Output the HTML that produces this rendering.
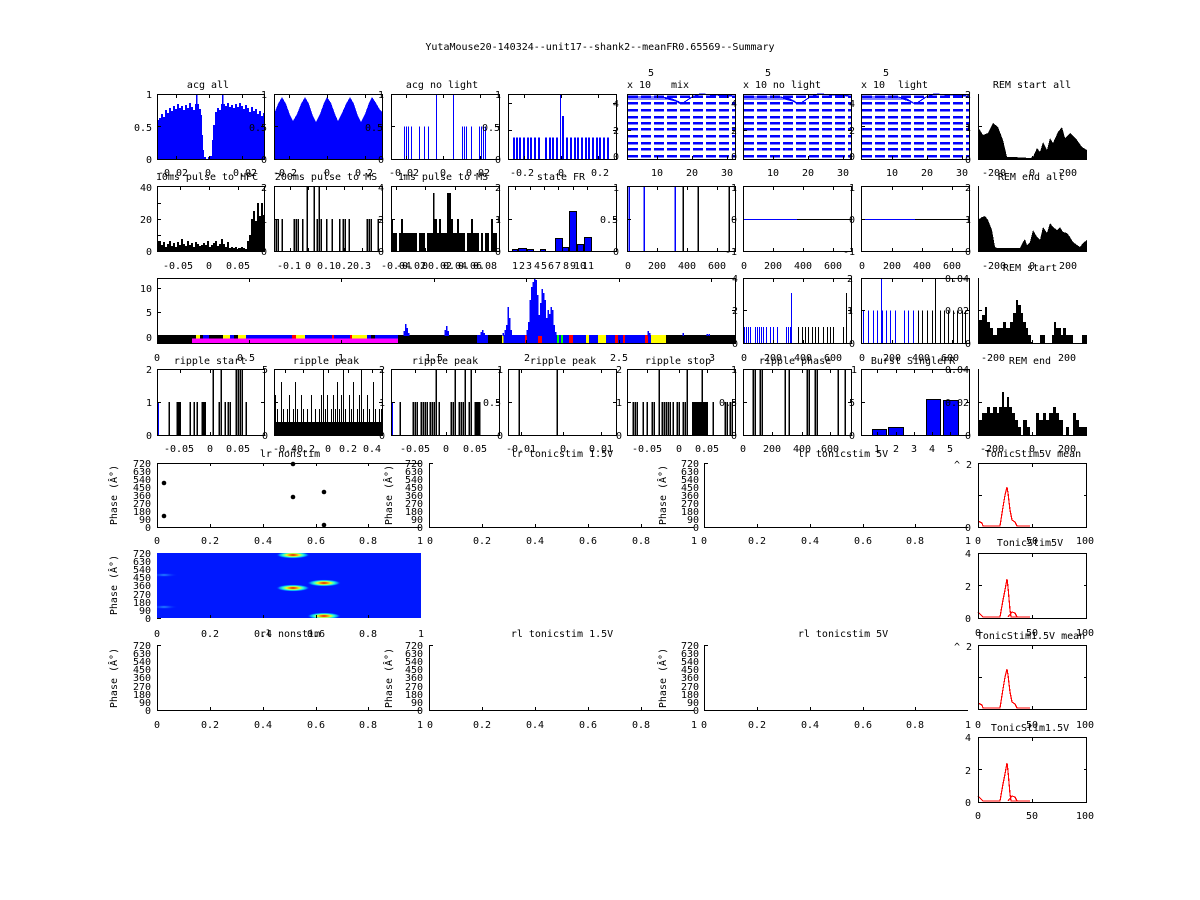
<!DOCTYPE html>
<html><head><meta charset="utf-8"><style>
html,body{margin:0;padding:0;background:#fff;}
svg{display:block;}
text{font-family:"DejaVu Sans Mono","Liberation Mono",monospace;font-size:10px;fill:#000;}
.m{text-anchor:middle}
.e{text-anchor:end}
</style></head><body>
<svg width="1200" height="900" viewBox="0 0 1200 900" xmlns="http://www.w3.org/2000/svg" shape-rendering="crispEdges">
<defs>
<radialGradient id="hb">
<stop offset="0" stop-color="#c00000"/>
<stop offset="0.2" stop-color="#ff7000"/>
<stop offset="0.4" stop-color="#e8ff20"/>
<stop offset="0.6" stop-color="#30ffd0"/>
<stop offset="0.8" stop-color="#0090ff"/>
<stop offset="1" stop-color="#0018ff" stop-opacity="0"/>
</radialGradient>
<radialGradient id="hf">
<stop offset="0" stop-color="#2a9cff"/>
<stop offset="1" stop-color="#0018ff" stop-opacity="0"/>
</radialGradient>
<clipPath id="hc"><rect x="157" y="553" width="264" height="65"/></clipPath>
</defs>
<rect width="1200" height="900" fill="#fff"/>

<text x="600" y="50" class="m">YutaMouse20-140324--unit17--shank2--meanFR0.65569--Summary</text>

<!-- ================= ROW 1 ================= -->
<path fill="#00f" d="M157,159V120H159V118H161V114H163V117H165V110H167V113H169V108H171V111H173V106H175V109H177V104H179V108H181V106H183V110H185V105H187V108H189V103H191V107H193V110H195V104H196V94H197.5V104H199V109H201V115H202V135H203V150H204V157H206V159H208V157H210V156H212V140H213V125H215V112H217V108H219V110H221V104H222V94H223.5V104H225V106H227V103H229V107H231V105H233V108H235V104H237V107H239V103H241V106H243V109H245V105H247V108H249V112H251V107H253V111H255V109H257V114H259V111H261V116H263V113H264V159Z"/>
<path fill="#00f" d="M274,159L274,114L278,104L282,97L286,104L290,115L293,121L297,114L301,104L305,97L309,104L313,116L316,122L320,114L324,103L327,97L331,103L335,114L338,121L342,113L346,104L350,97L354,104L358,116L361,122L365,114L369,103L372,97L376,103L380,110L382,112L382,159Z"/>
<path stroke="#00f" stroke-width="1" d="M404.5,159V126.5M406.5,159V126.5M408.5,159V126.5M411.5,159V126.5M419.5,159V126.5M424.5,159V126.5M428.5,159V126.5M462.5,159V126.5M464.5,159V126.5M466.5,159V126.5M471.5,159V126.5M479.5,159V126.5M481.5,159V126.5M483.5,159V126.5M485.5,159V126.5"/>
<path stroke="#00f" stroke-width="1" d="M436.5,159V94M453.5,159V94M560.5,159V94"/>
<path stroke="#00f" stroke-width="2" d="M514,159V137.5M517,159V137.5M520,159V137.5M524,159V137.5M528,159V137.5M531,159V137.5M535,159V137.5M539,159V137.5M546,159V137.5M550,159V137.5M553,159V137.5M557,159V137.5M563,159V116M567,159V137.5M571,159V137.5M575,159V137.5M578,159V137.5M582,159V137.5M586,159V137.5M589,159V137.5M593,159V137.5M597,159V137.5M600,159V137.5M604,159V137.5M608,159V137.5"/>
<g stroke="#00f" stroke-width="2.5" stroke-dasharray="10 3">
<path d="M628,96.5H735M628,103H735M628,110H735M628,117H735M628,123H735M628,129H735M628,136H735M628,143H735M628,149H735M628,156H735"/>
<path d="M744,96.5H851M744,103H851M744,110H851M744,117H851M744,123H851M744,129H851M744,136H851M744,143H851M744,149H851M744,156H851"/>
<path d="M862,96.5H969M862,103H969M862,110H969M862,117H969M862,123H969M862,129H969M862,136H969M862,143H969M862,149H969M862,156H969"/>
</g>
<g fill="none" stroke="#00f" stroke-width="1.2">
<polyline points="628,97 662,97 672,99 679,102 682,104 686,101 692,97 700,94 715,95 735,96"/>
<polyline points="628,99 668,99 676,101 681,104"/>
<polyline points="744,97 780,97 790,99 797,103 800,104 804,101 810,97 818,94 835,95 851,96"/>
<polyline points="744,99 785,99 793,101 798,104"/>
<polyline points="862,97 898,97 907,99 913,103 916,104 920,101 926,97 934,94 950,95 969,96"/>
<polyline points="862,99 903,99 910,101 915,104"/>
</g>
<polygon fill="#000" points="978,159 978,127 983,135 988,133 993,123 998,127 1003,140 1007,157 1013,157 1030,158 1033,157 1037,148 1040,152 1043,142 1047,150 1050,138 1053,143 1058,132 1062,127 1065,138 1070,133 1077,140 1082,147 1087,150 1087,159"/>

<!-- ================= ROW 2 ================= -->
<path fill="#000" d="M157,251V241H161V245H163V242H165V247H167V244H169V241H171V246H173V243H175V247H177V242H179V245H181V239H183V244H185V246H187V241H189V245H191V243H193V247H195V242H197V244H199V246H201V245H203V243H205V245H207V241H209V247H211V245H213V243H215V241H217V246H219V244H221V239H223V244H225V247H227V242H229V248H231V247H233V248H235V247H237V249H239V248H241V247H243V248H245V249H247V241H249V235H251V219H253V211H255V221H257V203H259V216H261V203H263V215H264V251Z"/>
<path stroke="#000" d="M276,251V219M278,251V219M282,251V219M294,251V219M296,251V219M298,251V219M302.5,251V219M307,251V187M314,251V187M317,251V219M319,251V187M321,251V219M326.5,251V219M332,251V219M339.5,251V219M343,251V219M345,251V219M349,251V219M367,251V219M369,251V219M371,251V219M378,251V219" stroke-width="1.5"/>
<path fill="#000" d="M391,251V219H393V233H397V251H399V233H401V219H403V233H417V251H419V233H425V251H427V233H433V193H434.5V219H437V233H439V219H441V233H447V193H451V219H453V233H457V219H459V233H465V251H467V233H471V219H473V233H479V251H481V233H483V251H485V233H489V251H491V219H493V233H497V251Z"/>
<g fill="#00f" stroke="#000" stroke-width="1">
<rect x="512.5" y="249.5" width="5" height="2"/>
<rect x="518.5" y="248.5" width="8" height="3"/>
<rect x="527.5" y="249.5" width="6" height="2"/>
<rect x="540.5" y="249.5" width="5" height="2"/>
<rect x="555.5" y="238.5" width="7" height="13"/>
<rect x="562.5" y="247.5" width="6" height="4"/>
<rect x="569.5" y="211.5" width="7" height="40"/>
<rect x="577.5" y="244.5" width="6" height="7"/>
<rect x="584.5" y="237.5" width="7" height="14"/>
</g>
<path stroke="#00f" stroke-width="1.5" d="M629,187V251M644,187V251M675,187V251"/>
<path stroke="#000" stroke-width="1.5" d="M683,187V251M698,187V251M729,187V251"/>
<path stroke="#00f" d="M743,219.5H797M861,219.5H915"/>
<path stroke="#000" d="M797,219.5H851M915,219.5H969"/>
<polygon fill="#000" points="978,251 978,220 982,217 985,216 988,220 992,230 995,247 997,248 1020,248 1023,242 1025,239 1027,245 1030,242 1033,230 1037,237 1040,240 1043,227 1047,233 1050,223 1053,227 1057,230 1060,227 1063,232 1067,233 1070,237 1073,242 1077,245 1080,247 1083,243 1087,240 1087,251"/>

<!-- ================= ROW 3 ================= -->
<rect x="157" y="335" width="578" height="8" fill="#000"/>
<rect x="192" y="338.5" width="206" height="4.5" fill="#f0f"/>
<g>
<rect x="196" y="335" width="4" height="3.5" fill="#ff0"/>
<rect x="203" y="335" width="6" height="3.5" fill="#00f"/>
<rect x="223" y="335" width="7" height="3.5" fill="#ff0"/>
<rect x="230" y="335" width="4" height="3.5" fill="#00f"/>
<rect x="238" y="335" width="8" height="3.5" fill="#ff0"/>
<rect x="246" y="335" width="46" height="3.5" fill="#00f"/>
<rect x="292" y="335" width="4" height="3.5" fill="#f00"/>
<rect x="296" y="335" width="9" height="3.5" fill="#ff0"/>
<rect x="305" y="335" width="27" height="3.5" fill="#00f"/>
<rect x="332" y="335" width="2" height="3.5" fill="#f00"/>
<rect x="334" y="335" width="16" height="3.5" fill="#00f"/>
<rect x="350" y="335" width="2" height="3.5" fill="#f00"/>
<rect x="352" y="335" width="15" height="3.5" fill="#ff0"/>
<rect x="367" y="335" width="4" height="3.5" fill="#00f"/>
<rect x="375" y="335" width="23" height="3.5" fill="#00f"/>
</g>
<g>
<rect x="477" y="335" width="11" height="8" fill="#00f"/>
<rect x="502" y="335" width="23" height="8" fill="#00f"/>
<rect x="502" y="335" width="1.5" height="8" fill="#ff0"/>
<rect x="525" y="335" width="2" height="8" fill="#f00"/>
<rect x="527" y="335" width="11" height="8" fill="#00f"/>
<rect x="538" y="335" width="4" height="8" fill="#f00"/>
<rect x="542" y="335" width="15" height="8" fill="#00f"/>
<rect x="557" y="335" width="2" height="8" fill="#0f0"/>
<rect x="559" y="335" width="2" height="8" fill="#00f"/>
<rect x="561" y="335" width="2" height="8" fill="#0f0"/>
<rect x="563" y="335" width="6" height="8" fill="#00f"/>
<rect x="569" y="335" width="4" height="8" fill="#f00"/>
<rect x="573" y="335" width="13" height="8" fill="#00f"/>
<rect x="586" y="335" width="3" height="8" fill="#ff0"/>
<rect x="589" y="335" width="9" height="8" fill="#00f"/>
<rect x="598" y="335" width="8" height="8" fill="#ff0"/>
<rect x="606" y="335" width="9" height="8" fill="#00f"/>
<rect x="615" y="335" width="3" height="8" fill="#f00"/>
<rect x="618" y="335" width="5" height="8" fill="#00f"/>
<rect x="623" y="335" width="2" height="8" fill="#f00"/>
<rect x="625" y="335" width="20" height="8" fill="#00f"/>
<rect x="645" y="335" width="3" height="8" fill="#f00"/>
<rect x="648" y="335" width="3" height="8" fill="#00f"/>
<rect x="651" y="335" width="15" height="8" fill="#ff0"/>
</g>
<path stroke="#00f" stroke-width="1.5" d="M404,336V331M405.5,336V324M407,336V328M408.5,336V333M445,336V330M446.5,336V326M448,336V331M481,336V332M482.5,336V330M484,336V333M503,336V333M505,336V330M506.5,336V325M508,336V307M509.5,336V318M511,336V330M527,336V330M528.5,336V322M530,336V300M531.5,336V287M533,336V282M534.5,336V278M536,336V280M537.5,336V295M539,336V315M540.5,336V303M542,336V289M543.5,336V293M545,336V300M546.5,336V318M548,336V310M549.5,336V314M551,336V307M552.5,336V310M554,336V325M555.5,336V332M648,336V331M649.5,336V333M683,336V333M707,336V334M709,336V334"/>
<path stroke="#00f" stroke-width="1" d="M744.5,343V327M746.5,343V327M748.5,343V327M750.5,343V327M755.5,343V327M757.5,343V327M759.5,343V327M761.5,343V327M763.5,343V327M766.5,343V327M770.5,343V327M773.5,343V327M777.5,343V327M786.5,343V327M788.5,343V327M790.5,343V327M791.5,343V293"/>
<path stroke="#000" stroke-width="1" d="M798.5,343V327M802.5,343V327M805.5,343V327M808.5,343V327M812.5,343V327M815.5,343V327M818.5,343V327M823.5,343V327M827.5,343V327M830.5,343V327M833.5,343V327M843.5,343V327M846.5,343V293"/>
<path stroke="#00f" stroke-width="1" d="M863.5,343V310.5M868.5,343V310.5M873.5,343V310.5M877.5,343V310.5M882.5,343V310.5M886.5,343V310.5M890.5,343V310.5M895.5,343V310.5M904.5,343V310.5M908.5,343V310.5M913.5,343V310.5M881.5,343V278"/>
<path stroke="#000" stroke-width="1" d="M918.5,343V310.5M922.5,343V310.5M927.5,343V310.5M932.5,343V310.5M940.5,343V310.5M944.5,343V310.5M948.5,343V310.5M953.5,343V310.5M957.5,343V310.5M962.5,343V310.5M965.5,343V310.5M935.5,343V278"/>
<path fill="#000" d="M978,343V320H982V315H985V307H987V322H990V328H993V335H997V328H1003V322H1006V328H1010V322H1013V313H1016V300H1018V305H1021V313H1023V322H1026V328H1028V335H1031V342H1033V343H1040V335H1045V343H1052V335H1054V322H1056V328H1061V335H1063V328H1066V335H1073V343H1082V335H1087V343Z"/>

<!-- ================= ROW 4 ================= -->
<path stroke="#00f" stroke-width="1.5" d="M158,435V402M392,435V402"/>
<path stroke="#000" stroke-width="1.5" d="M169,435V402M177,435V402M178.5,435V402M180,435V402M190,435V402M194,435V402M197,435V402M202,435V402M203.5,435V402M205,435V402M213,435V369M219,435V402M221,435V369M225,435V402M228,435V402M230,435V402M236,435V369M238,435V369M240,435V369M242,435V369M246,435V402"/>
<rect x="274" y="422" width="108" height="13" fill="#000"/>
<path stroke="#000" stroke-width="1" d="M275.5,435V395M277.5,435V409M279.5,435V422M281.5,435V382M283.5,435V409M285.5,435V422M287.5,435V409M289.5,435V395M291.5,435V422M293.5,435V409M295.5,435V382M297.5,435V409M299.5,435V422M301.5,435V395M303.5,435V409M305.5,435V422M307.5,435V409M309.5,435V422M311.5,435V395M313.5,435V422M315.5,435V409M317.5,435V422M319.5,435V409M321.5,435V395M323.5,435V369M325.5,435V409M327.5,435V395M329.5,435V422M331.5,435V409M333.5,435V395M335.5,435V409M337.5,435V382M339.5,435V409M341.5,435V395M343.5,435V369M345.5,435V409M347.5,435V422M349.5,435V395M351.5,435V409M353.5,435V382M355.5,435V422M357.5,435V409M359.5,435V395M361.5,435V369M363.5,435V409M365.5,435V422M367.5,435V395M369.5,435V409M371.5,435V422M373.5,435V382M375.5,435V409M377.5,435V422M379.5,435V409M381.5,435V409"/>
<path stroke="#000" stroke-width="1.5" d="M400,435V402M413,435V402M415,435V402M417,435V402M421,435V402M423,435V402M425,435V402M427,435V402M430,435V402M432,435V402M434,435V402M436,435V369M439,435V402M451,435V402M453,435V402M455,435V369M459,435V402M461,435V402M463,435V402M465,435V369M469,435V402M471,435V369M475,435V402M476.5,435V402M478,435V402M479.5,435V402"/>
<path stroke="#000" stroke-width="1.5" d="M519,435V369M557,435V369"/>
<rect x="692" y="402" width="16" height="33" fill="#000"/>
<path stroke="#000" stroke-width="1.5" d="M633,435V402M635,435V402M637,435V402M643,435V402M647,435V402M652,435V402M654,435V402M659,435V369M662,435V402M664,435V402M666,435V402M668,435V402M670,435V402M673,435V402M677,435V402M679,435V402M683,435V402M685,435V402M687,435V369M702,435V369M713,435V402M725,435V402M727,435V402M730,435V402M732,435V402"/>
<path stroke="#000" stroke-width="1.5" d="M753,435V369M755,435V369M760,435V369M762,435V369M785,435V369M789,435V369M807,435V369M809,435V369M815,435V369M817,435V369M838,435V369M845,435V369"/>
<g fill="#00f" stroke="#000" stroke-width="1">
<rect x="872.5" y="429.5" width="14" height="6"/>
<rect x="888.5" y="427.5" width="15" height="8"/>
<rect x="926.5" y="399.5" width="14" height="36"/>
<rect x="943.5" y="400.5" width="15" height="35"/>
</g>
<path fill="#000" d="M978,435V420H982V413H987V407H990V413H993V407H997V413H999V407H1002V392H1004V407H1007V397H1009V407H1012V413H1015V420H1018V427H1021V435H1023V420H1027V427H1030V435H1036V413H1039V420H1043V413H1046V420H1049V413H1053V407H1056V413H1059V420H1063V435H1066V427H1069V435H1073V413H1076V420H1079V427H1087V435Z"/>

<!-- ================= BOXES rows 1-4 ================= -->
<g fill="none" stroke="#000" stroke-width="1">
<rect x="157.5" y="94.5" width="107" height="65"/>
<rect x="274.5" y="94.5" width="108" height="65"/>
<rect x="391.5" y="94.5" width="108" height="65"/>
<rect x="508.5" y="94.5" width="108" height="65"/>
<rect x="627.5" y="94.5" width="108" height="65"/>
<rect x="743.5" y="94.5" width="108" height="65"/>
<rect x="861.5" y="94.5" width="108" height="65"/>
<path d="M978.5,94V159.5H1087"/>
<rect x="157.5" y="186.5" width="107" height="65"/>
<rect x="274.5" y="186.5" width="108" height="65"/>
<rect x="391.5" y="186.5" width="108" height="65"/>
<rect x="508.5" y="186.5" width="108" height="65"/>
<rect x="627.5" y="186.5" width="108" height="65"/>
<rect x="743.5" y="186.5" width="108" height="65"/>
<rect x="861.5" y="186.5" width="108" height="65"/>
<path d="M978.5,186V251.5H1087"/>
<rect x="157.5" y="278.5" width="578" height="65"/>
<rect x="743.5" y="278.5" width="108" height="65"/>
<rect x="861.5" y="278.5" width="108" height="65"/>
<path d="M978.5,278V343.5H1087"/>
<rect x="157.5" y="369.5" width="107" height="66"/>
<rect x="274.5" y="369.5" width="108" height="66"/>
<rect x="391.5" y="369.5" width="108" height="66"/>
<rect x="508.5" y="369.5" width="108" height="66"/>
<rect x="627.5" y="369.5" width="108" height="66"/>
<rect x="743.5" y="369.5" width="108" height="66"/>
<rect x="861.5" y="369.5" width="108" height="66"/>
<path d="M978.5,369V435.5H1087"/>
</g>
<!-- ticks rows 1-4 -->
<path fill="none" stroke="#000" stroke-width="1" d="
M176.5,159V156M209.5,159V156M242.5,159V156M176.5,95V98M209.5,95V98M242.5,95V98M158,126.5H161M264,126.5H261
M289.5,159V156M327.5,159V156M365.5,159V156M289.5,95V98M327.5,95V98M365.5,95V98M275,126.5H278M382,126.5H379
M406.5,159V156M443.5,159V156M480.5,159V156M406.5,95V98M443.5,95V98M480.5,95V98M392,126.5H395M499,126.5H496
M524.5,159V156M561.5,159V156M598.5,159V156M524.5,95V98M561.5,95V98M598.5,95V98M509,130.5H512M616,130.5H613M509,103.5H512M616,103.5H613
M657.5,159V156M692.5,159V156M727.5,159V156M657.5,95V98M692.5,95V98M727.5,95V98M628,130.5H631M735,130.5H732
M773.5,159V156M808.5,159V156M843.5,159V156M773.5,95V98M808.5,95V98M843.5,95V98M744,130.5H747M851,130.5H848
M892.5,159V156M927.5,159V156M962.5,159V156M892.5,95V98M927.5,95V98M962.5,95V98M862,126.5H865M969,126.5H966
M996.5,159V156M1032.5,159V156M1068.5,159V156M979,126.5H982
M180.5,251V248M209.5,251V248M238.5,251V248M180.5,187V190M209.5,187V190M238.5,187V190M158,219.5H161M264,219.5H261M158,203.5H161M158,235.5H161
M290.5,251V248M308.5,251V248M326.5,251V248M344.5,251V248M362.5,251V248M290.5,187V190M308.5,187V190M326.5,187V190M344.5,187V190M362.5,187V190M275,219.5H278M382,219.5H379
M396.5,251V248M411.5,251V248M425.5,251V248M440.5,251V248M455.5,251V248M470.5,251V248M485.5,251V248M396.5,187V190M425.5,187V190M455.5,187V190M485.5,187V190M392,219.5H395M499,219.5H496
M515.5,187V190M530.5,187V190M544.5,187V190M558.5,187V190M573.5,187V190M587.5,187V190M509,219.5H512M616,219.5H613
M657.5,251V248M687.5,251V248M717.5,251V248M657.5,187V190M687.5,187V190M717.5,187V190M628,219.5H631M735,219.5H732
M773.5,251V248M803.5,251V248M833.5,251V248M773.5,187V190M803.5,187V190M833.5,187V190
M892.5,251V248M922.5,251V248M952.5,251V248M892.5,187V190M922.5,187V190M952.5,187V190M862,219.5H865M969,219.5H966
M996.5,251V248M1032.5,251V248M1068.5,251V248M979,219.5H982
M249.5,343V340M341.5,343V340M434.5,343V340M526.5,343V340M619.5,343V340M711.5,343V340M249.5,279V282M341.5,279V282M434.5,279V282M526.5,279V282M619.5,279V282M711.5,279V282M158,288.5H161M158,312.5H161M735,310.5H732
M773.5,343V340M803.5,343V340M833.5,343V340M773.5,279V282M803.5,279V282M833.5,279V282M744,310.5H747M851,310.5H848
M892.5,343V340M922.5,343V340M952.5,343V340M892.5,279V282M922.5,279V282M952.5,279V282M862,310.5H865M969,310.5H966
M996.5,343V340M1032.5,343V340M1068.5,343V340M979,310.5H982
M180.5,435V432M210.5,435V432M238.5,435V432M180.5,370V373M210.5,370V373M238.5,370V373M158,402.5H161M264,402.5H261
M285.5,370V373M303.5,370V373M328.5,370V373M348.5,370V373M372.5,370V373M275,402.5H278M382,402.5H379
M415.5,435V432M446.5,435V432M475.5,435V432M415.5,370V373M446.5,370V373M475.5,370V373M392,402.5H395M499,402.5H496
M521.5,435V432M563.5,435V432M601.5,435V432M521.5,370V373M563.5,370V373M601.5,370V373M509,402.5H512M616,402.5H613
M647.5,435V432M679.5,435V432M707.5,435V432M647.5,370V373M679.5,370V373M707.5,370V373M628,402.5H631M735,402.5H732
M772.5,435V432M802.5,435V432M830.5,435V432M772.5,370V373M802.5,370V373M830.5,370V373M744,402.5H747M851,402.5H848
M877.5,435V432M896.5,435V432M914.5,435V432M932.5,435V432M950.5,435V432M877.5,370V373M896.5,370V373M914.5,370V373M932.5,370V373M950.5,370V373M862,402.5H865M969,402.5H966
M996.5,435V432M1032.5,435V432M1068.5,435V432M979,402.5H982"/>

<!-- ================= TEXT rows 1-4 ================= -->
<text x="208" y="88" class="m">acg all</text>
<text x="442" y="88" class="m">acg no light</text>
<text x="627" y="88">x 10</text><text x="651" y="76" class="m">5</text><text x="680" y="88" class="m">mix</text>
<text x="743" y="88">x 10</text><text x="768" y="76" class="m">5</text><text x="797" y="88" class="m">no light</text>
<text x="861" y="88">x 10</text><text x="886" y="76" class="m">5</text><text x="913" y="88" class="m">light</text>
<text x="1032" y="88" class="m">REM start all</text>
<text x="152" y="98" class="e">1</text><text x="152" y="131" class="e">0.5</text><text x="152" y="163" class="e">0</text>
<text x="264" y="98" class="m">1</text><text x="258" y="131" class="m">0.5</text><text x="264" y="163" class="m">0</text>
<text x="381" y="98" class="m">1</text><text x="374" y="131" class="m">0.5</text><text x="381" y="163" class="m">0</text>
<text x="498" y="98" class="m">1</text><text x="491" y="131" class="m">0.5</text><text x="498" y="163" class="m">0</text>
<text x="616" y="107" class="m">4</text><text x="616" y="134" class="m">2</text><text x="616" y="160" class="m">0</text>
<text x="734" y="107" class="m">4</text><text x="734" y="134" class="m">2</text><text x="734" y="160" class="m">0</text>
<text x="852" y="107" class="m">4</text><text x="852" y="134" class="m">2</text><text x="852" y="160" class="m">0</text>
<text x="968" y="98" class="m">2</text><text x="968" y="131" class="m">1</text><text x="968" y="163" class="m">0</text>
<text x="173" y="176" class="m">-0.02</text><text x="208" y="176" class="m">0</text><text x="245" y="176" class="m">0.02</text>
<text x="285" y="176" class="m">-0.2</text><text x="327" y="176" class="m">0</text><text x="364" y="176" class="m">0.2</text>
<text x="404" y="176" class="m">-0.02</text><text x="443" y="176" class="m">0</text><text x="478" y="176" class="m">0.02</text>
<text x="522" y="176" class="m">-0.2</text><text x="561" y="176" class="m">0</text><text x="600" y="176" class="m">0.2</text>
<text x="657" y="176" class="m">10</text><text x="692" y="176" class="m">20</text><text x="727" y="176" class="m">30</text>
<text x="773" y="176" class="m">10</text><text x="808" y="176" class="m">20</text><text x="843" y="176" class="m">30</text>
<text x="892" y="176" class="m">10</text><text x="927" y="176" class="m">20</text><text x="962" y="176" class="m">30</text>
<text x="994" y="176" class="m">-200</text><text x="1032" y="176" class="m">0</text><text x="1068" y="176" class="m">200</text>

<text x="207" y="180" class="m">10ms pulse to HPC</text>
<text x="326" y="180" class="m">200ms pulse to MS</text>
<text x="443" y="180" class="m">1ms pulse to MS</text>
<text x="561" y="180" class="m">state FR</text>
<text x="1031" y="180" class="m">REM end all</text>
<text x="152" y="191" class="e">40</text><text x="152" y="223" class="e">20</text><text x="152" y="255" class="e">0</text>
<text x="264" y="191" class="m">2</text><text x="264" y="223" class="m">1</text><text x="264" y="255" class="m">0</text>
<text x="381" y="191" class="m">4</text><text x="381" y="223" class="m">2</text><text x="381" y="255" class="m">0</text>
<text x="498" y="191" class="m">2</text><text x="498" y="223" class="m">1</text><text x="498" y="255" class="m">0</text>
<text x="616" y="191" class="m">1</text><text x="609" y="223" class="m">0.5</text><text x="616" y="255" class="m">0</text>
<text x="734" y="191" class="m">1</text><text x="734" y="223" class="m">0</text><text x="737" y="255" class="e">-1</text>
<text x="852" y="191" class="m">1</text><text x="852" y="223" class="m">0</text><text x="855" y="255" class="e">-1</text>
<text x="968" y="191" class="m">2</text><text x="968" y="223" class="m">1</text><text x="968" y="255" class="m">0</text>
<text x="178" y="269" class="m">-0.05</text><text x="209" y="269" class="m">0</text><text x="238" y="269" class="m">0.05</text>
<text x="289" y="269" class="m">-0.1</text><text x="308" y="269" class="m">0</text><text x="326" y="269" class="m">0.1</text><text x="344" y="269" class="m">0.2</text><text x="362" y="269" class="m">0.3</text>
<text x="396" y="269" class="m">-0.04</text><text x="411" y="269" class="m">-0.02</text><text x="425" y="269" class="m">0</text><text x="440" y="269" class="m">0.02</text><text x="455" y="269" class="m">0.04</text><text x="470" y="269" class="m">0.06</text><text x="485" y="269" class="m">0.08</text>
<text x="515" y="269" class="m">1</text><text x="522" y="269" class="m">2</text><text x="529" y="269" class="m">3</text><text x="537" y="269" class="m">4</text><text x="544" y="269" class="m">5</text><text x="551" y="269" class="m">6</text><text x="558" y="269" class="m">7</text><text x="566" y="269" class="m">8</text><text x="573" y="269" class="m">9</text><text x="580" y="269" class="m">10</text><text x="588" y="269" class="m">11</text>
<text x="628" y="269" class="m">0</text><text x="657" y="269" class="m">200</text><text x="687" y="269" class="m">400</text><text x="717" y="269" class="m">600</text>
<text x="744" y="269" class="m">0</text><text x="773" y="269" class="m">200</text><text x="803" y="269" class="m">400</text><text x="833" y="269" class="m">600</text>
<text x="862" y="269" class="m">0</text><text x="892" y="269" class="m">200</text><text x="922" y="269" class="m">400</text><text x="952" y="269" class="m">600</text>
<text x="994" y="269" class="m">-200</text><text x="1032" y="269" class="m">0</text><text x="1068" y="269" class="m">200</text>

<text x="1030" y="271" class="m">REM start</text>
<text x="152" y="292" class="e">10</text><text x="152" y="316" class="e">5</text><text x="152" y="341" class="e">0</text>
<text x="735" y="282" class="m">4</text><text x="735" y="314" class="m">2</text><text x="735" y="347" class="m">0</text>
<text x="850" y="282" class="m">2</text><text x="850" y="314" class="m">1</text><text x="852" y="347" class="m">0</text>
<text x="957" y="282" class="m">0.04</text><text x="957" y="314" class="m">0.02</text><text x="968" y="347" class="m">0</text>
<text x="157" y="361" class="m">0</text><text x="246" y="361" class="m">0.5</text><text x="341" y="361" class="m">1</text><text x="434" y="361" class="m">1.5</text><text x="527" y="361" class="m">2</text><text x="619" y="361" class="m">2.5</text><text x="712" y="361" class="m">3</text>
<text x="744" y="361" class="m">0</text><text x="773" y="361" class="m">200</text><text x="803" y="361" class="m">400</text><text x="833" y="361" class="m">600</text>
<text x="862" y="361" class="m">0</text><text x="892" y="361" class="m">200</text><text x="921" y="361" class="m">400</text><text x="950" y="361" class="m">600</text>
<text x="993" y="361" class="m">-200</text><text x="1067" y="361" class="m">200</text>

<text x="210" y="364" class="m">ripple start</text>
<text x="326" y="364" class="m">ripple peak</text>
<text x="445" y="364" class="m">ripple peak</text>
<text x="563" y="364" class="m">ripple peak</text>
<text x="678" y="364" class="m">ripple stop</text>
<text x="795" y="364" class="m">ripple phase</text>
<text x="913" y="364" class="m">Burst SingleFR</text>
<text x="1030" y="364" class="m">REM end</text>
<text x="152" y="373" class="e">2</text><text x="152" y="406" class="e">1</text><text x="152" y="439" class="e">0</text>
<text x="265" y="373" class="m">5</text><text x="265" y="439" class="m">0</text>
<text x="382" y="373" class="m">2</text><text x="382" y="406" class="m">1</text><text x="382" y="439" class="m">0</text>
<text x="500" y="373" class="m">1</text><text x="492" y="406" class="m">0.5</text><text x="500" y="439" class="m">0</text>
<text x="619" y="373" class="m">2</text><text x="619" y="406" class="m">1</text><text x="619" y="439" class="m">0</text>
<text x="734" y="373" class="m">1</text><text x="728" y="406" class="m">0.5</text><text x="734" y="439" class="m">0</text>
<text x="854" y="373" class="m">1</text><text x="852" y="406" class="m">5</text><text x="852" y="439" class="m">0</text>
<text x="957" y="373" class="m">0.04</text><text x="957" y="406" class="m">0.02</text><text x="968" y="439" class="m">0</text>
<text x="179" y="452" class="m">-0.05</text><text x="210" y="452" class="m">0</text><text x="238" y="452" class="m">0.05</text>
<text x="285" y="452" class="m">-0.4</text><text x="303" y="452" class="m">-0.2</text><text x="328" y="452" class="m">0</text><text x="348" y="452" class="m">0.2</text><text x="372" y="452" class="m">0.4</text>
<text x="415" y="452" class="m">-0.05</text><text x="446" y="452" class="m">0</text><text x="475" y="452" class="m">0.05</text>
<text x="521" y="452" class="m">-0.01</text><text x="563" y="452" class="m">0</text><text x="601" y="452" class="m">0.01</text>
<text x="647" y="452" class="m">-0.05</text><text x="679" y="452" class="m">0</text><text x="707" y="452" class="m">0.05</text>
<text x="743" y="452" class="m">0</text><text x="772" y="452" class="m">200</text><text x="802" y="452" class="m">400</text><text x="830" y="452" class="m">600</text>
<text x="877" y="452" class="m">1</text><text x="896" y="452" class="m">2</text><text x="914" y="452" class="m">3</text><text x="932" y="452" class="m">4</text><text x="950" y="452" class="m">5</text>
<text x="992" y="452" class="m">-200</text><text x="1032" y="452" class="m">0</text><text x="1067" y="452" class="m">200</text>

<!-- ================= ROW 5 ================= -->
<text x="290" y="457" class="m">lr nonstim</text>
<text x="562" y="457" class="m">lr tonicstim 1.5V</text>
<text x="843" y="457" class="m">lr tonicstim 5V</text>
<text x="1033" y="457" class="m">TonicStim5V mean</text>
<g fill="#000" shape-rendering="auto">
<circle cx="164" cy="483" r="2.3"/><circle cx="164" cy="516" r="2.3"/>
<circle cx="293" cy="464" r="2.3"/><circle cx="293" cy="497" r="2.3"/>
<circle cx="324" cy="492" r="2.3"/><circle cx="324" cy="525" r="2.3"/>
</g>
<path fill="none" stroke="#000" stroke-width="1" d="
M157,463.5H421M210.5,463V466M263.5,463V466M316.5,463V466M368.5,463V466
M157.5,463V527M157,527.5H421M210.5,527V524M263.5,527V524M316.5,527V524M368.5,527V524M157,463.5H161
M429.5,463V527M429,527.5H694M482.5,527V524M535.5,527V524M588.5,527V524M641.5,527V524M429,463.5H433
M704.5,463V527M704,527.5H968M757.5,527V524M810.5,527V524M863.5,527V524M915.5,527V524M704,463.5H708"/>
<g>
<text x="151" y="467" class="e">720</text><text x="151" y="475" class="e">630</text><text x="151" y="483" class="e">540</text><text x="151" y="491" class="e">450</text><text x="151" y="499" class="e">360</text><text x="151" y="507" class="e">270</text><text x="151" y="515" class="e">180</text><text x="151" y="523" class="e">90</text><text x="151" y="531" class="e">0</text>
<text x="423" y="467" class="e">720</text><text x="423" y="475" class="e">630</text><text x="423" y="483" class="e">540</text><text x="423" y="491" class="e">450</text><text x="423" y="499" class="e">360</text><text x="423" y="507" class="e">270</text><text x="423" y="515" class="e">180</text><text x="423" y="523" class="e">90</text><text x="423" y="531" class="e">0</text>
<text x="699" y="467" class="e">720</text><text x="699" y="475" class="e">630</text><text x="699" y="483" class="e">540</text><text x="699" y="491" class="e">450</text><text x="699" y="499" class="e">360</text><text x="699" y="507" class="e">270</text><text x="699" y="515" class="e">180</text><text x="699" y="523" class="e">90</text><text x="699" y="531" class="e">0</text>
</g>
<text transform="translate(117,495) rotate(-90)" class="m">Phase (Â°)</text>
<text transform="translate(392,495) rotate(-90)" class="m">Phase (Â°)</text>
<text transform="translate(666,495) rotate(-90)" class="m">Phase (Â°)</text>
<text x="157" y="544" class="m">0</text><text x="210" y="544" class="m">0.2</text><text x="263" y="544" class="m">0.4</text><text x="316" y="544" class="m">0.6</text><text x="368" y="544" class="m">0.8</text><text x="420" y="544" class="m">1</text>
<text x="430" y="544" class="m">0</text><text x="482" y="544" class="m">0.2</text><text x="535" y="544" class="m">0.4</text><text x="588" y="544" class="m">0.6</text><text x="641" y="544" class="m">0.8</text><text x="694" y="544" class="m">1</text>
<text x="704" y="544" class="m">0</text><text x="757" y="544" class="m">0.2</text><text x="810" y="544" class="m">0.4</text><text x="863" y="544" class="m">0.6</text><text x="915" y="544" class="m">0.8</text><text x="968" y="544" class="m">1</text>

<polyline fill="none" stroke="#f00" stroke-width="1.2" points="978,521 982,523 983,526 1000,526 1003,507 1005,495 1007,487 1008,493 1010,510 1012,520 1015,522 1017,526 1030,526"/>
<rect x="978.5" y="463.5" width="108" height="64" fill="none" stroke="#000"/>
<path stroke="#000" fill="none" d="M1032.5,527V524M1032.5,464V467M979,495.5H982M1087,495.5H1084"/>
<text x="972" y="468" class="e">^ 2</text>
<text x="968" y="531" class="m">0</text>
<text x="978" y="544" class="m">0</text><text x="1032" y="544" class="m">50</text><text x="1085" y="544" class="m">100</text>

<!-- ================= ROW 6 ================= -->
<rect x="157" y="553" width="264" height="65" fill="#0018ff"/>
<g clip-path="url(#hc)" shape-rendering="auto">
<ellipse cx="164" cy="575" rx="14" ry="2.2" fill="url(#hf)"/>
<ellipse cx="164" cy="607" rx="14" ry="2.2" fill="url(#hf)"/>
<ellipse cx="293" cy="555" rx="17" ry="3.5" fill="url(#hb)"/>
<ellipse cx="293" cy="588" rx="17" ry="3.5" fill="url(#hb)"/>
<ellipse cx="324" cy="583" rx="17" ry="3.5" fill="url(#hb)"/>
<ellipse cx="324" cy="616" rx="17" ry="3.5" fill="url(#hb)"/>
</g>
<path stroke="#000" fill="none" d="M157,618.5H161M210.5,618V615M263.5,618V615M316.5,618V615M368.5,618V615"/>
<g>
<text x="151" y="557" class="e">720</text><text x="151" y="565" class="e">630</text><text x="151" y="573" class="e">540</text><text x="151" y="581" class="e">450</text><text x="151" y="589" class="e">360</text><text x="151" y="598" class="e">270</text><text x="151" y="606" class="e">180</text><text x="151" y="614" class="e">90</text><text x="151" y="622" class="e">0</text>
</g>
<text transform="translate(117,585) rotate(-90)" class="m">Phase (Â°)</text>
<text x="157" y="637" class="m">0</text><text x="210" y="637" class="m">0.2</text><text x="263" y="637" class="m">0.4</text><text x="316" y="637" class="m">0.6</text><text x="368" y="637" class="m">0.8</text><text x="421" y="637" class="m">1</text>

<polyline fill="none" stroke="#f00" stroke-width="1.2" points="978,612 983,617 1000,617 1003,600 1005,590 1007,579 1008,587 1010,610 1011,617 1030,617"/>
<polyline fill="none" stroke="#f00" stroke-width="1.2" points="1008,617 1012,612 1015,613 1017,617"/>
<rect x="978.5" y="553.5" width="108" height="65" fill="none" stroke="#000"/>
<path stroke="#000" fill="none" d="M1032.5,618V615M1032.5,554V557M979,585.5H982M1087,585.5H1084"/>
<text x="1030" y="546" class="m">TonicStim5V</text>
<text x="968" y="557" class="m">4</text><text x="968" y="590" class="m">2</text><text x="968" y="622" class="m">0</text>
<text x="978" y="636" class="m">0</text><text x="1032" y="636" class="m">50</text><text x="1085" y="636" class="m">100</text>

<!-- ================= ROW 7 ================= -->
<text x="290" y="637" class="m">rl nonstim</text>
<text x="562" y="637" class="m">rl tonicstim 1.5V</text>
<text x="843" y="637" class="m">rl tonicstim 5V</text>
<text x="1031" y="639" class="m">TonicStim1.5V mean</text>
<path fill="none" stroke="#000" stroke-width="1" d="
M157.5,645V710M157,710.5H421M210.5,710V707M263.5,710V707M316.5,710V707M368.5,710V707M157,645.5H161
M429.5,645V710M429,710.5H694M482.5,710V707M535.5,710V707M588.5,710V707M641.5,710V707M429,645.5H433
M704.5,645V710M704,710.5H968M757.5,710V707M810.5,710V707M863.5,710V707M915.5,710V707M704,645.5H708"/>
<g>
<text x="151" y="649" class="e">720</text><text x="151" y="657" class="e">630</text><text x="151" y="665" class="e">540</text><text x="151" y="673" class="e">450</text><text x="151" y="681" class="e">360</text><text x="151" y="690" class="e">270</text><text x="151" y="698" class="e">180</text><text x="151" y="706" class="e">90</text><text x="151" y="714" class="e">0</text>
<text x="423" y="649" class="e">720</text><text x="423" y="657" class="e">630</text><text x="423" y="665" class="e">540</text><text x="423" y="673" class="e">450</text><text x="423" y="681" class="e">360</text><text x="423" y="690" class="e">270</text><text x="423" y="698" class="e">180</text><text x="423" y="706" class="e">90</text><text x="423" y="714" class="e">0</text>
<text x="699" y="649" class="e">720</text><text x="699" y="657" class="e">630</text><text x="699" y="665" class="e">540</text><text x="699" y="673" class="e">450</text><text x="699" y="681" class="e">360</text><text x="699" y="690" class="e">270</text><text x="699" y="698" class="e">180</text><text x="699" y="706" class="e">90</text><text x="699" y="714" class="e">0</text>
</g>
<text transform="translate(117,678) rotate(-90)" class="m">Phase (Â°)</text>
<text transform="translate(392,678) rotate(-90)" class="m">Phase (Â°)</text>
<text transform="translate(666,678) rotate(-90)" class="m">Phase (Â°)</text>
<text x="157" y="728" class="m">0</text><text x="210" y="728" class="m">0.2</text><text x="263" y="728" class="m">0.4</text><text x="316" y="728" class="m">0.6</text><text x="368" y="728" class="m">0.8</text><text x="420" y="728" class="m">1</text>
<text x="430" y="728" class="m">0</text><text x="482" y="728" class="m">0.2</text><text x="535" y="728" class="m">0.4</text><text x="588" y="728" class="m">0.6</text><text x="641" y="728" class="m">0.8</text><text x="694" y="728" class="m">1</text>
<text x="704" y="728" class="m">0</text><text x="757" y="728" class="m">0.2</text><text x="810" y="728" class="m">0.4</text><text x="863" y="728" class="m">0.6</text><text x="915" y="728" class="m">0.8</text><text x="968" y="728" class="m">1</text>

<polyline fill="none" stroke="#f00" stroke-width="1.2" points="978,703 982,705 983,708 1000,708 1003,689 1005,677 1007,669 1008,675 1010,692 1012,702 1015,704 1017,708 1030,708"/>
<rect x="978.5" y="645.5" width="108" height="64" fill="none" stroke="#000"/>
<path stroke="#000" fill="none" d="M1032.5,709V706M1032.5,646V649M979,677.5H982M1087,677.5H1084"/>
<text x="972" y="650" class="e">^ 2</text>
<text x="978" y="728" class="m">0</text><text x="1032" y="728" class="m">50</text><text x="1085" y="728" class="m">100</text>

<!-- ================= ROW 8 ================= -->
<text x="1030" y="731" class="m">TonicStim1.5V</text>
<polyline fill="none" stroke="#f00" stroke-width="1.2" points="978,796 983,801 1000,801 1003,784 1005,774 1007,763 1008,771 1010,794 1011,801 1030,801"/>
<polyline fill="none" stroke="#f00" stroke-width="1.2" points="1008,801 1012,796 1015,797 1017,801"/>
<rect x="978.5" y="737.5" width="108" height="65" fill="none" stroke="#000"/>
<path stroke="#000" fill="none" d="M1032.5,802V799M1032.5,738V741M979,769.5H982M1087,769.5H1084"/>
<text x="968" y="741" class="m">4</text><text x="968" y="774" class="m">2</text><text x="968" y="806" class="m">0</text>
<text x="978" y="819" class="m">0</text><text x="1032" y="819" class="m">50</text><text x="1085" y="819" class="m">100</text>
</svg>
</body></html>
